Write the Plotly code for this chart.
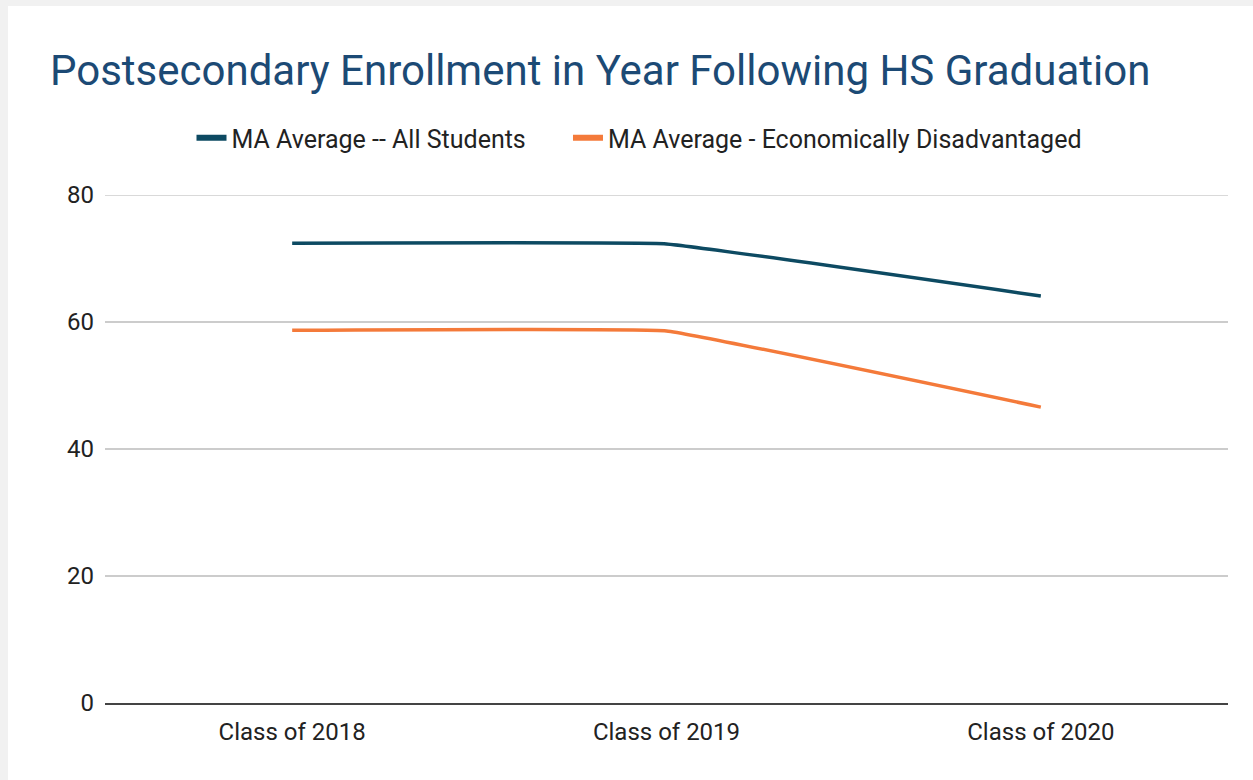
import plotly.graph_objects as go

categories = ["Class of 2018", "Class of 2019", "Class of 2020"]
all_students = [72.4, 72.3, 64.1]
econ_disadv = [58.7, 58.6, 46.6]
series_names = ["MA Average -- All Students", "MA Average - Economically Disadvantaged"]
y_ticks = [0, 20, 40, 60, 80]

colors = ["#0d4a62", "#f47a3a"]

W, H = 1245, 774
fig = go.Figure()
for name, vals, c in zip(series_names, [all_students, econ_disadv], colors):
    fig.add_trace(go.Scatter(x=categories, y=vals, mode="lines", name=name,
                             line=dict(color=c, width=3.5, shape="spline", smoothing=0.2),
                             showlegend=False, hoverinfo="skip"))
legend_labels = [series_names[0] + "\u00a0" * 6, series_names[1]]
for name, c in zip(legend_labels, colors):
    fig.add_trace(go.Scatter(x=[None], y=[None], mode="lines", name=name,
                             line=dict(color=c, width=6), showlegend=True))

# top gridline (plotly clips gridlines at the range edge)
fig.add_shape(type="line", xref="paper", yref="y", x0=0, x1=1, y0=y_ticks[-1], y1=y_ticks[-1],
              line=dict(color="#cccccc", width=1.5), layer="below")

fig.update_layout(
    width=W, height=H,
    margin=dict(l=97, r=25, t=189, b=77),
    paper_bgcolor="white", plot_bgcolor="white",
    font=dict(family="Roboto", size=24, color="#333333"),
    title=dict(text="Postsecondary Enrollment in Year Following HS Graduation",
               font=dict(family="Roboto", size=42, color="#1c4a75"),
               x=42 / W, xanchor="left", xref="container",
               y=1 - 64 / H, yanchor="middle", yref="container"),
    legend=dict(orientation="h", x=631 / W, xanchor="center", xref="container",
                y=1 - 132 / H, yanchor="middle", yref="container",
                font=dict(size=25, color="#222222"), itemwidth=30,
                bgcolor="rgba(0,0,0,0)"),
    xaxis=dict(type="category", range=[-0.5, 2.5], showgrid=False, zeroline=False,
               showline=True, linecolor="#444444", linewidth=2,
               ticks="", tickfont=dict(size=24, color="#222222"), ticklabelstandoff=6),
    yaxis=dict(range=[0, 80], tickvals=y_ticks, showgrid=True, gridcolor="#cccccc",
               gridwidth=1.5, zeroline=False, showline=False, ticks="",
               tickfont=dict(size=24, color="#222222"), ticklabelstandoff=10),
)

post = "document.body.style.margin='6px 0 0 8px';document.body.style.background='#f1f1f1';document.body.style.overflow='hidden';"
fig.write_html("out.html", post_script=post)
